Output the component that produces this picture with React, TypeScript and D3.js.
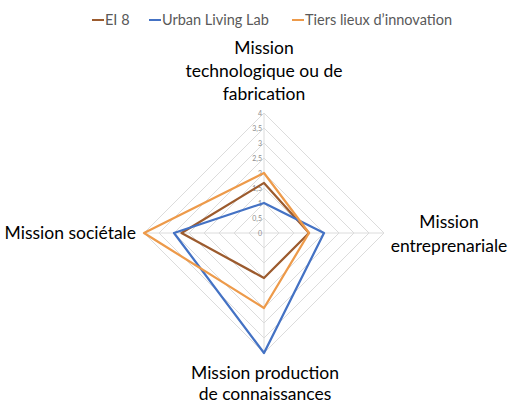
import React from "react";
import * as d3 from "d3";

const categories: string[][] = [
  ["Mission", "technologique ou de", "fabrication"],
  ["Mission", "entreprenariale"],
  ["Mission production", "de connaissances"],
  ["Mission sociétale"],
];
const seriesNames = ["EI 8", "Urban Living Lab", "Tiers lieux d’innovation"];
const ei8 = [1.67, 1.5, 1.5, 2.75];
const urbanLivingLab = [1, 2, 4, 3];
const tiersLieux = [2, 1.5, 2.5, 4];
const tickValues = [0, 0.5, 1, 1.5, 2, 2.5, 3, 3.5, 4];
const tickLabels = ["0", "0,5", "1", "1,5", "2", "2,5", "3", "3,5", "4"];

const colors = ["#9C5B2E", "#4472C4", "#ED9A4A"];
const FONT = "Lato, 'Open Sans', sans-serif";

export default function App() {
  const W = 515, H = 405;
  const cx = 264, cy = 233, R = 120;
  const r = d3.scaleLinear().domain([0, 4]).range([0, R]);
  const n = categories.length;
  const angle = (i: number) => (i / n) * 2 * Math.PI; // 0 = up, clockwise
  const pt = (i: number, v: number): [number, number] => [
    cx + r(v) * Math.sin(angle(i)),
    cy - r(v) * Math.cos(angle(i)),
  ];
  const line = d3.line<[number, number]>().curve(d3.curveLinearClosed);
  const allSeries = [ei8, urbanLivingLab, tiersLieux];

  const labelPos = [
    { x: cx, y: 54, anchor: "middle", dy: 23 },
    { x: 449, y: 228, anchor: "middle", dy: 24 },
    { x: cx + 1, y: 379, anchor: "middle", dy: 21 },
    { x: 136, y: 239, anchor: "end", dy: 23 },
  ];

  const legendX = [92, 149, 292];

  return (
    <svg width={W} height={H} style={{ position: "absolute", left: 0, top: 0, background: "#fff" }} fontFamily={FONT}>
      {seriesNames.map((s, i) => (
        <g key={s}>
          <line x1={legendX[i]} x2={legendX[i] + 12} y1={20} y2={20} stroke={colors[i]} strokeWidth={2} />
          <text x={legendX[i] + 13} y={25} fontSize={14.5} fill="#595959">{s}</text>
        </g>
      ))}
      {tickValues.slice(1).map((t) => (
        <path
          key={t}
          d={line(categories.map((_, i) => pt(i, t))) || ""}
          fill="none"
          stroke="#DCDCDC"
          strokeWidth={1}
        />
      ))}
      {categories.map((_, i) => {
        const [x, y] = pt(i, 4);
        return <line key={i} x1={cx} y1={cy} x2={x} y2={y} stroke="#DCDCDC" strokeWidth={1} />;
      })}
      {tickValues.map((t, k) => (
        <text key={t} x={cx - 2} y={cy - r(t) + 2.5} fontSize={7} fill="#8C8C8C" textAnchor="end">
          {tickLabels[k]}
        </text>
      ))}
      {allSeries.map((s, k) => (
        <path
          key={k}
          d={line(s.map((v, i) => pt(i, v))) || ""}
          fill="none"
          stroke={colors[k]}
          strokeWidth={2.25}
          strokeLinejoin="round"
        />
      ))}
      {categories.map((lines, i) => (
        <text key={i} x={labelPos[i].x} y={labelPos[i].y} fontSize={17.5} fill="#000" textAnchor={labelPos[i].anchor as any}>
          {lines.map((l, j) => (
            <tspan key={j} x={labelPos[i].x} dy={j === 0 ? 0 : labelPos[i].dy}>{l}</tspan>
          ))}
        </text>
      ))}
    </svg>
  );
}
